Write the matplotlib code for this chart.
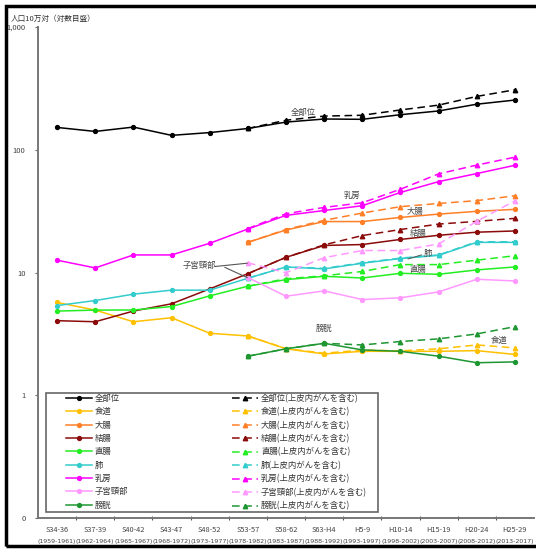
import numpy as np
import matplotlib
matplotlib.use("Agg")
import matplotlib.pyplot as plt
from matplotlib.patches import Rectangle
from matplotlib.lines import Line2D

plt.rcParams['font.family'] = ['Noto Sans CJK JP', 'DejaVu Sans']

nan = np.nan
periods = ["S34-36", "S37-39", "S40-42", "S43-47", "S48-52", "S53-57", "S58-62",
           "S63-H4", "H5-9", "H10-14", "H15-19", "H20-24", "H25-29"]
years = ["(1959-1961)", "(1962-1964)", "(1965-1967)", "(1968-1972)", "(1973-1977)",
         "(1978-1982)", "(1983-1987)", "(1988-1992)", "(1993-1997)", "(1998-2002)",
         "(2003-2007)", "(2008-2012)", "(2013-2017)"]

sites = ["全部位", "食道", "大腸", "結腸", "直腸", "肺", "乳房", "子宮頸部", "膀胱"]
suffix = "(上皮内がんを含む)"

all_solid = [152, 141, 153, 131, 138, 149, 168, 178, 177, 193, 207, 235, 254]
all_dash = [nan, nan, nan, nan, nan, 149, 174, 188, 191, 211, 231, 272, 308]
eso_solid = [5.7, 4.94, 3.97, 4.28, 3.2, 3.04, 2.39, 2.17, 2.28, 2.28, 2.28, 2.31, 2.15]
eso_dash = [nan, nan, nan, nan, nan, 3.04, 2.4, 2.2, 2.33, 2.3, 2.39, 2.57, 2.43]
crc_solid = [nan, nan, nan, nan, nan, 17.6, 22.2, 26.0, 26.0, 28.1, 29.9, 31.5, 32.7]
crc_dash = [nan, nan, nan, nan, nan, 17.6, 22.4, 26.6, 30.5, 34.4, 36.5, 38.5, 42.2]
col_solid = [4.05, 3.97, 4.85, 5.56, 7.35, 9.78, 13.3, 16.6, 16.9, 18.6, 20.1, 21.3, 21.8]
col_dash = [nan, nan, nan, nan, nan, 9.78, 13.3, 16.8, 20.0, 22.4, 24.8, 26.1, 27.6]
rec_solid = [4.85, 4.94, 4.95, 5.28, 6.45, 7.73, 8.75, 9.31, 9.02, 9.85, 9.67, 10.5, 11.1]
rec_dash = [nan, nan, nan, nan, nan, 7.73, 8.9, 9.4, 10.2, 11.6, 11.6, 12.6, 13.7]
lung_solid = [5.38, 5.91, 6.66, 7.18, 7.18, 8.98, 11.1, 10.7, 11.9, 13.0, 13.8, 17.6, 17.6]
lung_dash = [nan, nan, nan, nan, nan, 8.98, 11.1, 10.8, 12.0, 13.1, 13.9, 17.8, 17.8]
breast_solid = [12.6, 10.9, 13.9, 13.9, 17.3, 22.6, 29.2, 32.0, 35.0, 44.9, 55.0, 64.0, 74.7]
breast_dash = [nan, nan, nan, nan, nan, 22.8, 30.1, 33.9, 37.0, 47.7, 63.6, 75.0, 87.0]
cerv_solid = [nan, nan, nan, nan, nan, 9.1, 6.41, 7.08, 6.02, 6.22, 6.95, 8.81, 8.53]
cerv_dash = [nan, nan, nan, nan, nan, 12.0, 9.96, 13.2, 15.1, 15.1, 17.1, 26.1, 38.4]
blad_solid = [nan, nan, nan, nan, nan, 2.08, 2.39, 2.65, 2.34, 2.28, 2.08, 1.84, 1.87]
blad_dash = [nan, nan, nan, nan, nan, 2.08, 2.39, 2.65, 2.57, 2.74, 2.88, 3.16, 3.62]

solid_series = [all_solid, eso_solid, crc_solid, col_solid, rec_solid, lung_solid,
                breast_solid, cerv_solid, blad_solid]
dash_series = [all_dash, eso_dash, crc_dash, col_dash, rec_dash, lung_dash,
               breast_dash, cerv_dash, blad_dash]
colors = ["#000000", "#FFC000", "#FF7F27", "#8B0A0A", "#22EE22", "#33CCCC",
          "#FF00FF", "#FF99FF", "#1E9632"]

y_ticks = [0.1, 1, 10, 100, 1000]
y_ticklabels = ["0", "1", "10", "100", "1,000"]

# annotation labels: (text, x index, y value)
annotations = [("全部位", 6.45, 203), ("乳房", 7.73, 42.4), ("大腸", 9.38, 31.5),
               ("結腸", 9.46, 20.9), ("肺", 9.72, 14.4), ("直腸", 9.46, 10.5),
               ("膀胱", 7.0, 3.49), ("食道", 11.59, 2.79), ("子宮頸部", 3.72, 11.3)]

W, H = 536, 550
fig = plt.figure(figsize=(W / 100, H / 100), dpi=100)
ax = fig.add_axes([38 / W, 1 - 518 / H, 496 / W, 491 / H])

x = np.arange(len(periods))
for sol, dsh, c in zip(solid_series, dash_series, colors):
    ax.plot(x, sol, color=c, lw=1.1, marker='o', ms=2.8, mec=c, mfc=c, zorder=3)
    ax.plot(x, dsh, color=c, lw=1.1, ls=(0, (5, 3)), marker='^', ms=3.2,
            mec=c, mfc=c, zorder=3)

ax.set_yscale('log')
ax.set_ylim(0.1, 1000)
ax.set_xlim(-0.5, len(periods) - 0.5)
ax.set_yticks(y_ticks)
ax.set_yticklabels(y_ticklabels)
ax.yaxis.set_minor_locator(matplotlib.ticker.NullLocator())
ax.tick_params(axis='y', length=2, width=0.8, color='#666666', labelsize=5.5,
               labelcolor='#444444', pad=7)
ax.set_xticks(x)
ax.set_xticklabels(periods)
ax.tick_params(axis='x', length=0, labelsize=5.3, labelcolor='#444444', pad=6)
ax.set_xticks(x[:-1] + 0.5, minor=True)
ax.tick_params(axis='x', which='minor', length=2.5, width=0.8, color='#555555',
               direction='inout')
for xi, yr in zip(x, years):
    ax.text(xi, -0.047, yr, transform=ax.get_xaxis_transform(), ha='center',
            va='center', fontsize=4.5, color='#444444', family='DejaVu Sans')

for s in ['top', 'right']:
    ax.spines[s].set_visible(False)
for s in ['left', 'bottom']:
    ax.spines[s].set_color('#777777')
    ax.spines[s].set_linewidth(1.4)

ax.text(-0.055, 1.017, "人口10万対（対数目盛）", transform=ax.transAxes, fontsize=5.5,
        color='#333333', ha='left', va='center')

for t, xi, yv in annotations:
    ax.text(xi, yv, t, fontsize=6, color='#444444', ha='center', va='center', zorder=5)

# leader lines
ax.plot([4.15, 4.98], [11.2, 11.9], color='#555555', lw=0.8, zorder=4)
ax.plot([4.4, 4.98], [11.0, 9.1], color='#555555', lw=0.8, zorder=4)
ax.plot([9.2, 9.55], [12.9, 13.9], color='#555555', lw=0.7, zorder=4)

# legend
handles = []
labels = []
for s, c in zip(sites, colors):
    handles.append(Line2D([], [], color=c, lw=1.1, marker='o', ms=2.8))
    labels.append(s)
for s, c in zip(sites, colors):
    handles.append(Line2D([], [], color=c, lw=1.1, ls=(0, (5, 3)), marker='^', ms=3.2))
    labels.append(s + suffix)
leg = ax.legend(handles, labels, ncol=2, frameon=False, fontsize=6,
                loc='upper left', bbox_to_anchor=((65 - 38) / 496, (518 - 393) / 491),
                borderaxespad=0, borderpad=0.1, handlelength=3.1, handletextpad=0.35,
                columnspacing=12.5, labelspacing=0.52)
for t in leg.get_texts():
    t.set_color('#333333')
ax.add_patch(Rectangle(((46 - 38) / 496, (518 - 512) / 491), (378 - 46) / 496,
                       (512 - 393) / 491, transform=ax.transAxes, fill=False,
                       ec='#666666', lw=1.2, zorder=6))

# outer frame (right edge falls outside the image)
fig.patches.append(Rectangle((6 / W, 1 - 546 / H), (620 - 6) / W, (546 - 6) / H,
                             transform=fig.transFigure, fill=False, ec='black', lw=2.5))

fig.savefig("out.png", dpi=100, facecolor='white')
